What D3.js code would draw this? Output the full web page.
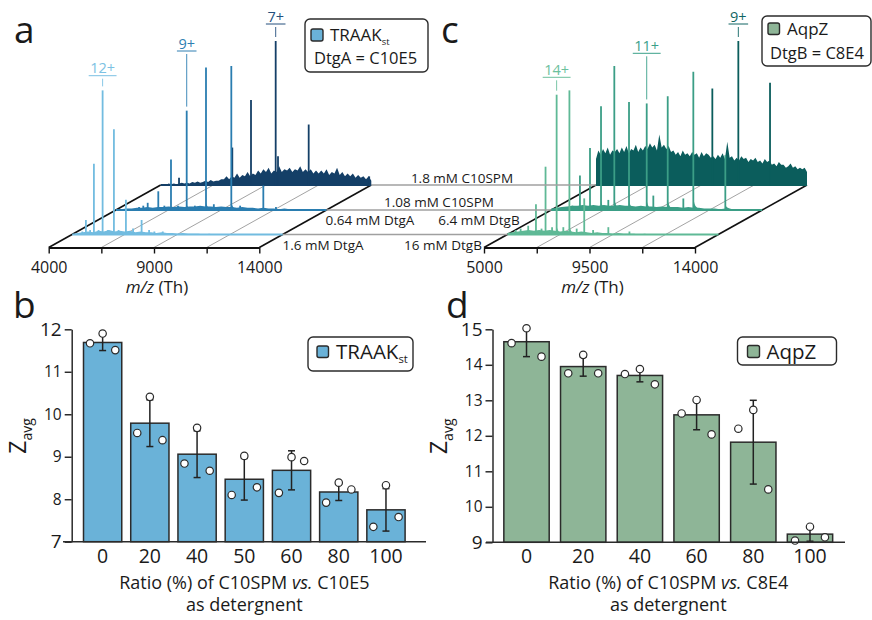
<!DOCTYPE html>
<html>
<head>
<meta charset="utf-8">
<title>Native MS of TRAAKst and AqpZ in C10SPM</title>
<script src="https://d3js.org/d3.v7.min.js"></script>
<style>
  body { margin: 0; background: #fff; }
  svg { display: block; font-family: "Open Sans", sans-serif; }
</style>
</head>
<body>
<svg id="figure" width="872" height="620"></svg>
<script>
// ---------- data ----------
// a: TRAAKst spectra; peaks are [m/z, relative intensity %], noise is an evenly sampled baseline over the m/z range
const aTicks = [4000, 9000, 14000];
const aMinorTicks = [6500, 11500];
const aFrontPeaks = [[4480, 2], [4650, 10], [4850, 3], [5030, 49], [5250, 3], [5443, 100], [5700, 3], [5980, 73], [6200, 3], [6550, 24], [6890, 4], [7295, 10], [7650, 3], [7900, 2], [8300, 2]];
const aMidPeaks = [[5100, 2], [5300, 3], [5510, 5], [6013, 13], [6300, 3], [6616, 35], [6950, 3], [7362, 69], [7750, 3], [8278, 99], [8650, 4], [9480, 100], [9900, 3], [11000, 17], [11600, 2]];
const aBackPeaks = [[4870, 5], [7400, 26], [8288, 59], [9460, 100], [9570, 20], [11027, 42], [13900, 6]];
const aFrontNoise = [0, 1, 1.5, 2, 1.5, 2.5, 2, 3, 2, 2.5, 2, 2.5, 1.5, 2, 1.5, 1.5, 1, 1.5, 1, 1, 0.5, 1, 0.5, 0.5, 0.5, 0, 0.5, 0, 0, 0, 0, 0, 0, 0, 0, 0, 0, 0, 0, 0, 0];
const aMidNoise = [0, 0.5, 1, 1, 1.5, 1.5, 2, 1.5, 2, 2, 2.5, 2, 2.5, 2, 2.5, 2.5, 3, 2.5, 2.5, 2, 2.5, 2, 2, 1.5, 2, 1.5, 1.5, 1, 1.5, 1, 1, 0.5, 1, 0.5, 0.5, 0.5, 0, 0.5, 0, 0, 0];
const aBackNoise = [0, 0.5, 0, 1, 0.5, 1, 0.5, 1,
  1.5, 1, 1.5, 1, 2, 1.5, 2.5, 1.5,
  2, 3, 2, 3.5, 2.5, 3, 3, 4,
  4, 6, 4, 6, 5, 8, 5, 7,
  6, 9, 6, 8, 7, 10, 8, 11,
  9, 12, 8, 10, 9, 13, 9, 11,
  10, 12, 9, 11, 10, 13, 9, 11,
  9, 11, 8, 10, 8, 10, 8, 11,
  7, 9, 8, 12, 7, 9, 6, 8,
  6, 8, 5, 7, 5, 6, 4, 6,
  3];

// c: AqpZ spectra
const cTicks = [5000, 9500, 14000];
const cMinorTicks = [7250, 11750];
const cFrontPeaks = [[5350, 3], [5560, 4], [5883, 6], [6213, 21], [6450, 4], [6622, 47], [6900, 5], [7095, 97], [7380, 5], [7640, 100], [7950, 4], [8272, 25], [8650, 3], [9300, 5], [10200, 2]];
const cMidPeaks = [[5900, 3], [6226, 24], [6655, 43], [7125, 72], [7436, 7], [7692, 100], [8319, 75], [9074, 74], [9356, 10], [9970, 79], [10636, 8], [11062, 96], [12427, 38]];
const cBackPeaks = [[9962, 67], [11071, 100], [12423, 71]];
const cFrontNoise = [1, 1.5, 2, 2.5, 3, 2.5, 3, 2.5, 3, 2.5, 2, 2.5, 2, 1.5, 2, 1.5, 1, 1.5, 1, 1, 0.5, 1, 0.5, 0.5, 0.5, 0, 0.5, 0, 0, 0, 0, 0, 0, 0, 0, 0, 0, 0, 0, 0, 0];
const cMidNoise = [1, 1.5, 2, 2.5, 3, 3, 3.5, 3, 3.5, 3, 3.5, 3, 3, 3.5, 3, 3, 2.5, 3, 2.5, 2.5, 2, 2.5, 2, 2, 2, 1.5, 2, 1.5, 1.5, 1, 1, 1, 0.5, 1, 0.5, 0.5, 0, 0, 0, 0, 0];
const cBackNoise = [18, 24, 21, 25, 22, 26, 21, 24, 23, 25,
  22, 26, 23, 27, 22, 25, 24, 28, 23, 26,
  24, 27, 25, 29, 26, 28, 24, 35, 26, 28,
  25, 27, 23, 24, 21, 23, 20, 24, 21, 22,
  20, 23, 21, 22, 19, 23, 20, 22, 21, 19,
  20, 18, 21, 19, 22, 18, 30, 19, 20, 17,
  19, 17, 20, 18, 19, 16, 18, 17, 19, 16,
  17, 15, 18, 16, 17, 14, 15, 13, 16, 14,
  14, 12, 13, 15, 12, 13, 11, 12, 11, 12,
  9];

const conditions = ['1.6 mM DtgA', '0.64 mM DtgA', '16 mM DtgB', '6.4 mM DtgB', '1.08 mM C10SPM', '1.8 mM C10SPM'];

// b: TRAAKst average charge
const bCategories = ['0', '20', '40', '50', '60', '80', '100'];
const bMeans = [11.69, 9.79, 9.06, 8.47, 8.68, 8.17, 7.75];
const bErrors = [0.19, 0.55, 0.55, 0.49, 0.46, 0.2, 0.5];
const bReplicates = [[11.67, 11.9, 11.51], [9.56, 10.41, 9.39], [8.84, 9.68, 8.67], [8.10, 9.02, 8.28], [8.15, 8.99, 8.90], [7.92, 8.39, 8.23], [7.35, 8.33, 7.58]];
const bYTicks = [7, 8, 9, 10, 11, 12];

// d: AqpZ average charge
const dCategories = ['0', '20', '40', '60', '80', '100'];
const dMeans = [14.65, 13.95, 13.70, 12.59, 11.82, 9.23];
const dErrors = [0.42, 0.27, 0.18, 0.42, 1.18, 0.2];
const dReplicates = [[14.61, 15.03, 14.23], [13.76, 14.28, 13.76], [13.74, 13.88, 13.45], [12.63, 13.01, 12.04], [12.20, 12.73, 10.49], [9.05, 9.44, 9.14]];
const dYTicks = [9, 10, 11, 12, 13, 14, 15];

const svg = d3.select('#figure');
const ink = '#2b2b2b';

/**
 * Rounded legend box with a swatch, a main label (optional subscript) and an optional second line
 */
function drawLegend(parent, o) {
  const g = parent.append('g');
  g.append('rect').attr('x', o.x).attr('y', o.y).attr('width', o.w).attr('height', o.h)
      .attr('rx', 5).attr('fill', '#fff').attr('stroke', ink).attr('stroke-width', 1.4);
  g.append('rect').attr('x', o.sx).attr('y', o.sy).attr('width', o.ss).attr('height', o.ss)
      .attr('rx', 2).attr('fill', o.fill).attr('stroke', ink).attr('stroke-width', 1.4);
  const t = g.append('text').attr('x', o.tx).attr('y', o.ty).attr('font-size', o.fs).attr('fill', '#1a1a1a');
  t.append('tspan').text(o.label);
  if (o.sub) t.append('tspan').attr('dy', o.fs * 0.22).attr('font-size', o.fs * 0.55).text(o.sub);
  if (o.line2) {
    g.append('text').attr('x', o.l2x).attr('y', o.l2y).attr('font-size', o.l2fs)
        .attr('fill', '#1a1a1a').text(o.line2);
  }
}

class Waterfall {

  /**
   * Stacked mass spectra drawn on an oblique floor
   */
  constructor(_config, _traces, _labels) {
    this.config = {
      parent: _config.parent,
      domain: _config.domain,
      ticks: _config.ticks,
      minorTicks: _config.minorTicks,
      origin: _config.origin,
      width: _config.width,
      depth: _config.depth || [112, -62.5],
      peakHeight: _config.peakHeight || 144
    };
    this.traces = _traces;
    this.labels = _labels;
    this.initVis();
  }

  initVis() {
    let vis = this;
    const [ox, oy] = vis.config.origin;

    vis.xScale = d3.scaleLinear()
        .domain(vis.config.domain)
        .range([ox, ox + vis.config.width]);
    vis.iScale = d3.scaleLinear()
        .domain([0, 100])
        .range([0, vis.config.peakHeight]);

    // screen position of an m/z value on a trace that sits d (0..1) deep on the floor
    vis.px = (mz, d) => vis.xScale(mz) + d * vis.config.depth[0];
    vis.base = d => oy + d * vis.config.depth[1];

    vis.chart = vis.config.parent.append('g');
    vis.floor = vis.chart.append('g');
    vis.traceG = vis.chart.append('g');
    vis.labelG = vis.chart.append('g');

    vis.xAxis = d3.axisBottom(vis.xScale)
        .tickValues(vis.config.ticks.concat(vis.config.minorTicks))
        .tickFormat(d => vis.config.ticks.includes(d) ? d : '')
        .tickSize(6)
        .tickSizeOuter(0)
        .tickPadding(8);
    vis.xAxisG = vis.chart.append('g')
        .attr('transform', `translate(0,${oy})`);
  }

  renderVis() {
    let vis = this;
    const [dx, dy] = vis.config.depth;
    const oy = vis.config.origin[1];
    const dom = vis.config.domain;
    const edge = d => d === dom[0] || d === dom[1];

    // floor lines running into depth
    vis.floor.selectAll('line')
        .data(vis.config.ticks.concat(vis.config.minorTicks))
      .join('line')
        .attr('x1', d => vis.xScale(d)).attr('y1', oy)
        .attr('x2', d => vis.xScale(d) + dx).attr('y2', oy + dy)
        .attr('stroke', d => edge(d) ? '#111' : '#8c8c8c')
        .attr('stroke-width', d => edge(d) ? 1.6 : 0.8);

    // back trace first so the front ones overlap it
    vis.traces.slice().sort((a, b) => b.depth - a.depth).forEach(t => {
      const g = vis.traceG.append('g');
      const b = vis.base(t.depth);
      const idx = d3.scaleLinear().domain([0, t.noise.length - 1]).range(dom);

      g.append('path')
          .datum(t.noise)
          .attr('fill', t.color)
          .attr('d', d3.area()
              .x((v, i) => vis.px(idx(i), t.depth))
              .y0(b)
              .y1(v => b - vis.iScale(v)));

      g.append('line')
          .attr('x1', vis.px(dom[0], t.depth)).attr('x2', vis.px(dom[1], t.depth))
          .attr('y1', b).attr('y2', b)
          .attr('stroke', t.color).attr('stroke-width', 2);

      // right-hand tails of the peaks
      if (t.tail) {
        g.selectAll('path.tail')
            .data(t.peaks.filter(p => p[1] > 8))
          .join('path')
            .attr('class', 'tail')
            .attr('fill', t.color)
            .attr('d', p => {
              const x = vis.px(p[0], t.depth), h = vis.iScale(p[1]) * t.tail[0];
              return `M${x},${b}L${x},${b - h}C${x + 1.5},${b - 2} ${x + 3},${b - 1.5} ${x + t.tail[1]},${b}Z`;
            });
      }

      g.selectAll('line.peak')
          .data(t.peaks)
        .join('line')
          .attr('class', 'peak')
          .attr('x1', p => vis.px(p[0], t.depth)).attr('x2', p => vis.px(p[0], t.depth))
          .attr('y1', b + 0.5)
          .attr('y2', p => b - vis.iScale(p[1]))
          .attr('stroke', t.color).attr('stroke-width', 1.8);
    });

    // charge-state annotations
    vis.labels.forEach(l => {
      const t = vis.traces[l.trace];
      const p = t.peaks.find(q => q[0] === l.mz);
      const x = vis.px(p[0], t.depth);
      const top = vis.base(t.depth) - vis.iScale(p[1]);
      const txt = vis.labelG.append('text')
          .attr('x', x).attr('y', l.lineY - 2.5)
          .attr('text-anchor', 'middle')
          .attr('font-size', 14.5)
          .attr('fill', l.color)
          .text(l.text);
      const w = txt.node().getComputedTextLength() + 3;
      vis.labelG.append('line')
          .attr('x1', x - w / 2).attr('x2', x + w / 2)
          .attr('y1', l.lineY).attr('y2', l.lineY)
          .attr('stroke', l.color).attr('stroke-width', 1);
      vis.labelG.append('line')
          .attr('x1', x).attr('x2', x)
          .attr('y1', l.lineY + 3).attr('y2', top - 4)
          .attr('stroke', l.color).attr('stroke-width', 0.9);
    });

    vis.xAxisG.call(vis.xAxis)
        .attr('font-size', 16)
        .attr('font-family', null);
    vis.xAxisG.select('.domain').attr('stroke', '#111').attr('stroke-width', 1.8);
    vis.xAxisG.selectAll('.tick line').attr('stroke', '#111').attr('stroke-width', 1.4);
    vis.xAxisG.selectAll('.tick text').attr('fill', '#1a1a1a');

    const title = vis.chart.append('text')
        .attr('x', vis.xScale((dom[0] + dom[1]) / 2) + 3)
        .attr('y', oy + 45)
        .attr('text-anchor', 'middle')
        .attr('font-size', 17)
        .attr('fill', '#1a1a1a');
    title.append('tspan').attr('font-style', 'italic').text('m/z');
    title.append('tspan').text(' (Th)');
  }
}

class BarPanel {

  /**
   * Bars with SD error bars and individual replicate points
   */
  constructor(_config, _cats, _means, _errs, _reps) {
    this.config = {
      parent: _config.parent,
      xRange: _config.xRange,
      yRange: _config.yRange,
      yDomain: _config.yDomain,
      yTicks: _config.yTicks,
      padInner: _config.padInner,
      padOuter: _config.padOuter,
      xLine: _config.xLine,
      fill: _config.fill,
      xTitle: _config.xTitle
    };
    this.cats = _cats;
    this.data = _cats.map((c, i) => ({ cat: c, mean: _means[i], err: _errs[i], reps: _reps[i] }));
    this.initVis();
  }

  initVis() {
    let vis = this;

    vis.xScale = d3.scaleBand()
        .domain(vis.cats)
        .range(vis.config.xRange)
        .paddingInner(vis.config.padInner)
        .paddingOuter(vis.config.padOuter);

    vis.yScale = d3.scaleLinear()
        .domain(vis.config.yDomain)
        .range(vis.config.yRange);

    vis.yAxis = d3.axisLeft(vis.yScale)
        .tickValues(vis.config.yTicks)
        .tickFormat(d3.format('d'))
        .tickSize(7)
        .tickSizeOuter(0)
        .tickPadding(3);

    vis.xAxis = d3.axisBottom(vis.xScale)
        .tickSize(0)
        .tickPadding(7);

    vis.chart = vis.config.parent.append('g');
    vis.barG = vis.chart.append('g');
    vis.xAxisG = vis.chart.append('g')
        .attr('transform', `translate(0,${vis.config.yRange[0]})`);
    vis.yAxisG = vis.chart.append('g')
        .attr('transform', `translate(${vis.config.xRange[0]},0)`);
  }

  renderVis() {
    let vis = this;
    const y0 = vis.config.yRange[0];
    const bw = vis.xScale.bandwidth();
    const cx = d => vis.xScale(d.cat) + bw / 2;
    const ends = d3.extent(vis.config.yTicks);

    vis.barG.selectAll('.bar')
        .data(vis.data)
      .join('rect')
        .attr('class', 'bar')
        .attr('x', d => vis.xScale(d.cat))
        .attr('width', bw)
        .attr('y', d => vis.yScale(d.mean))
        .attr('height', d => y0 - vis.yScale(d.mean))
        .attr('fill', vis.config.fill)
        .attr('stroke', ink)
        .attr('stroke-width', 1.5);

    const err = vis.barG.selectAll('.err')
        .data(vis.data)
      .join('g')
        .attr('class', 'err')
        .attr('stroke', '#222')
        .attr('stroke-width', 1.5);
    err.append('line')
        .attr('x1', cx).attr('x2', cx)
        .attr('y1', d => vis.yScale(d.mean + d.err))
        .attr('y2', d => vis.yScale(d.mean - d.err));
    [1, -1].forEach(s => {
      err.append('line')
          .attr('x1', d => cx(d) - 3.5).attr('x2', d => cx(d) + 3.5)
          .attr('y1', d => vis.yScale(d.mean + s * d.err))
          .attr('y2', d => vis.yScale(d.mean + s * d.err));
    });

    const offsets = [-0.33, 0, 0.33];
    vis.barG.selectAll('.rep')
        .data(vis.data.flatMap(d => d.reps.map((v, i) => ({ x: cx(d) + offsets[i] * bw, v }))))
      .join('circle')
        .attr('class', 'rep')
        .attr('cx', d => d.x)
        .attr('cy', d => vis.yScale(d.v))
        .attr('r', 3.7)
        .attr('fill', '#fff')
        .attr('stroke', ink)
        .attr('stroke-width', 1.2);

    // axes
    vis.yAxisG.call(vis.yAxis)
        .attr('font-family', null);
    vis.yAxisG.selectAll('.tick text')
        .attr('fill', '#1a1a1a')
        .attr('font-size', d => ends.includes(d) ? 19 : 15.5);
    vis.yAxisG.selectAll('.domain, .tick line').attr('stroke', ink).attr('stroke-width', 1.5);

    vis.xAxisG.call(vis.xAxis)
        .attr('font-size', 19.5)
        .attr('font-family', null);
    vis.xAxisG.select('.domain').remove();
    vis.xAxisG.selectAll('.tick text').attr('fill', '#1a1a1a');
    vis.xAxisG.append('line')
        .attr('x1', vis.config.xLine[0]).attr('x2', vis.config.xLine[1])
        .attr('stroke', ink).attr('stroke-width', 1.5);

    // axis titles
    const midX = (vis.xScale(vis.cats[0]) + vis.xScale(vis.cats[vis.cats.length - 1]) + bw) / 2;
    const t1 = vis.chart.append('text')
        .attr('x', midX).attr('y', y0 + 47)
        .attr('text-anchor', 'middle').attr('font-size', 18).attr('fill', '#1a1a1a');
    t1.append('tspan').text('Ratio (%) of C10SPM ');
    t1.append('tspan').attr('font-style', 'italic').text('vs.');
    t1.append('tspan').text(' ' + vis.config.xTitle);
    vis.chart.append('text')
        .attr('x', midX).attr('y', y0 + 69)
        .attr('text-anchor', 'middle').attr('font-size', 18).attr('fill', '#1a1a1a')
        .text('as detergnent');

    const yl = vis.chart.append('text')
        .attr('transform', `translate(${vis.config.xRange[0] - 46},${(vis.config.yRange[0] + vis.config.yRange[1]) / 2 + 0.5}) rotate(-90)`)
        .attr('text-anchor', 'middle').attr('fill', '#1a1a1a');
    yl.append('tspan').attr('font-size', 23).text('Z');
    yl.append('tspan').attr('font-size', 14).attr('dy', 6).text('avg');
  }
}

// ---------- spectra (a, c) ----------
const depths = [0.21, 0.6, 1.0];

const specA = new Waterfall({
  parent: svg, domain: [4000, 14000], ticks: aTicks, minorTicks: aMinorTicks,
  origin: [48.7, 247.5], width: 210.6
}, [
  { depth: depths[0], color: '#72bce0', peaks: aFrontPeaks, noise: aFrontNoise },
  { depth: depths[1], color: '#2a7db0', peaks: aMidPeaks, noise: aMidNoise, tail: [0.05, 6] },
  { depth: depths[2], color: '#143f67', peaks: aBackPeaks, noise: aBackNoise }
], [
  { trace: 0, mz: 5443, text: '12+', lineY: 75.7, color: '#7cc1e3' },
  { trace: 1, mz: 7362, text: '9+', lineY: 51, color: '#2e7fb2' },
  { trace: 2, mz: 9460, text: '7+', lineY: 24, color: '#244f7d' }
]);

const specC = new Waterfall({
  parent: svg, domain: [5000, 14000], ticks: cTicks, minorTicks: cMinorTicks,
  origin: [484, 247.5], width: 211
}, [
  { depth: depths[0], color: '#5fb996', peaks: cFrontPeaks, noise: cFrontNoise, tail: [0.06, 6] },
  { depth: depths[1], color: '#3b9e86', peaks: cMidPeaks, noise: cMidNoise, tail: [0.09, 11] },
  { depth: depths[2], color: '#0b5d5c', peaks: cBackPeaks, noise: cBackNoise }
], [
  { trace: 0, mz: 7095, text: '14+', lineY: 77.3, color: '#6cc09d' },
  { trace: 1, mz: 9074, text: '11+', lineY: 53.3, color: '#3aa089' },
  { trace: 2, mz: 11071, text: '9+', lineY: 24, color: '#116563' }
]);

// grey lines that carry each trace baseline across to the other panel
depths.forEach(d => {
  svg.append('line')
      .attr('x1', specA.px(14000, d)).attr('x2', specC.px(5000, d))
      .attr('y1', specA.base(d)).attr('y2', specC.base(d))
      .attr('stroke', '#a0a0a0').attr('stroke-width', 1.5);
});

specA.renderVis();
specC.renderVis();

// condition labels between the two spectra
const condPos = [[323, 250], [370, 225], [443, 250], [479, 225], [439, 207], [462, 183]];
svg.append('g').selectAll('text')
    .data(conditions)
  .join('text')
    .attr('x', (d, i) => condPos[i][0])
    .attr('y', (d, i) => condPos[i][1])
    .attr('text-anchor', 'middle')
    .attr('font-size', 13.5)
    .attr('fill', '#1a1a1a')
    .text(d => d);

drawLegend(svg, { x: 305, y: 19, w: 123, h: 53, sx: 311, sy: 29, ss: 12, fill: '#6ab2d8',
  tx: 330, ty: 41, fs: 17, label: 'TRAAK', sub: 'st', line2: 'DtgA = C10E5', l2x: 314, l2y: 64, l2fs: 16.5 });
drawLegend(svg, { x: 762, y: 16, w: 109, h: 50, sx: 768, sy: 23, ss: 11.5, fill: '#8eb597',
  tx: 787, ty: 35, fs: 17, label: 'AqpZ', line2: 'DtgB = C8E4', l2x: 770, l2y: 58.5, l2fs: 16.5 });

// ---------- average charge (b, d) ----------
const barB = new BarPanel({
  parent: svg, xRange: [71.7, 416.9], yRange: [541.7, 329.3], yDomain: [7, 12], yTicks: bYTicks,
  padInner: 0.19, padOuter: 0.25, xLine: [63, 426], fill: '#6ab2d8', xTitle: 'C10E5'
}, bCategories, bMeans, bErrors, bReplicates);
barB.renderVis();

const barD = new BarPanel({
  parent: svg, xRange: [492.5, 844], yRange: [542.3, 329.3], yDomain: [9, 15], yTicks: dYTicks,
  padInner: 0.2, padOuter: 0.2, xLine: [486, 845], fill: '#8eb597', xTitle: 'C8E4'
}, dCategories, dMeans, dErrors, dReplicates);
barD.renderVis();

drawLegend(svg, { x: 308, y: 337, w: 105, h: 34, sx: 317, sy: 346, ss: 11.5, fill: '#6ab2d8',
  tx: 336, ty: 358.5, fs: 20.5, label: 'TRAAK', sub: 'st' });
drawLegend(svg, { x: 737.5, y: 337, w: 99, h: 28, sx: 747.5, sy: 345.5, ss: 12, fill: '#8eb597',
  tx: 766.5, ty: 358.5, fs: 20.5, label: 'AqpZ' });

// panel letters
svg.append('g').selectAll('text')
    .data([['a', 14, 43], ['c', 441, 43], ['b', 13, 318], ['d', 446, 318]])
  .join('text')
    .attr('x', d => d[1]).attr('y', d => d[2])
    .attr('font-size', 37)
    .attr('fill', '#1a1a1a')
    .text(d => d[0]);
</script>
</body>
</html>
